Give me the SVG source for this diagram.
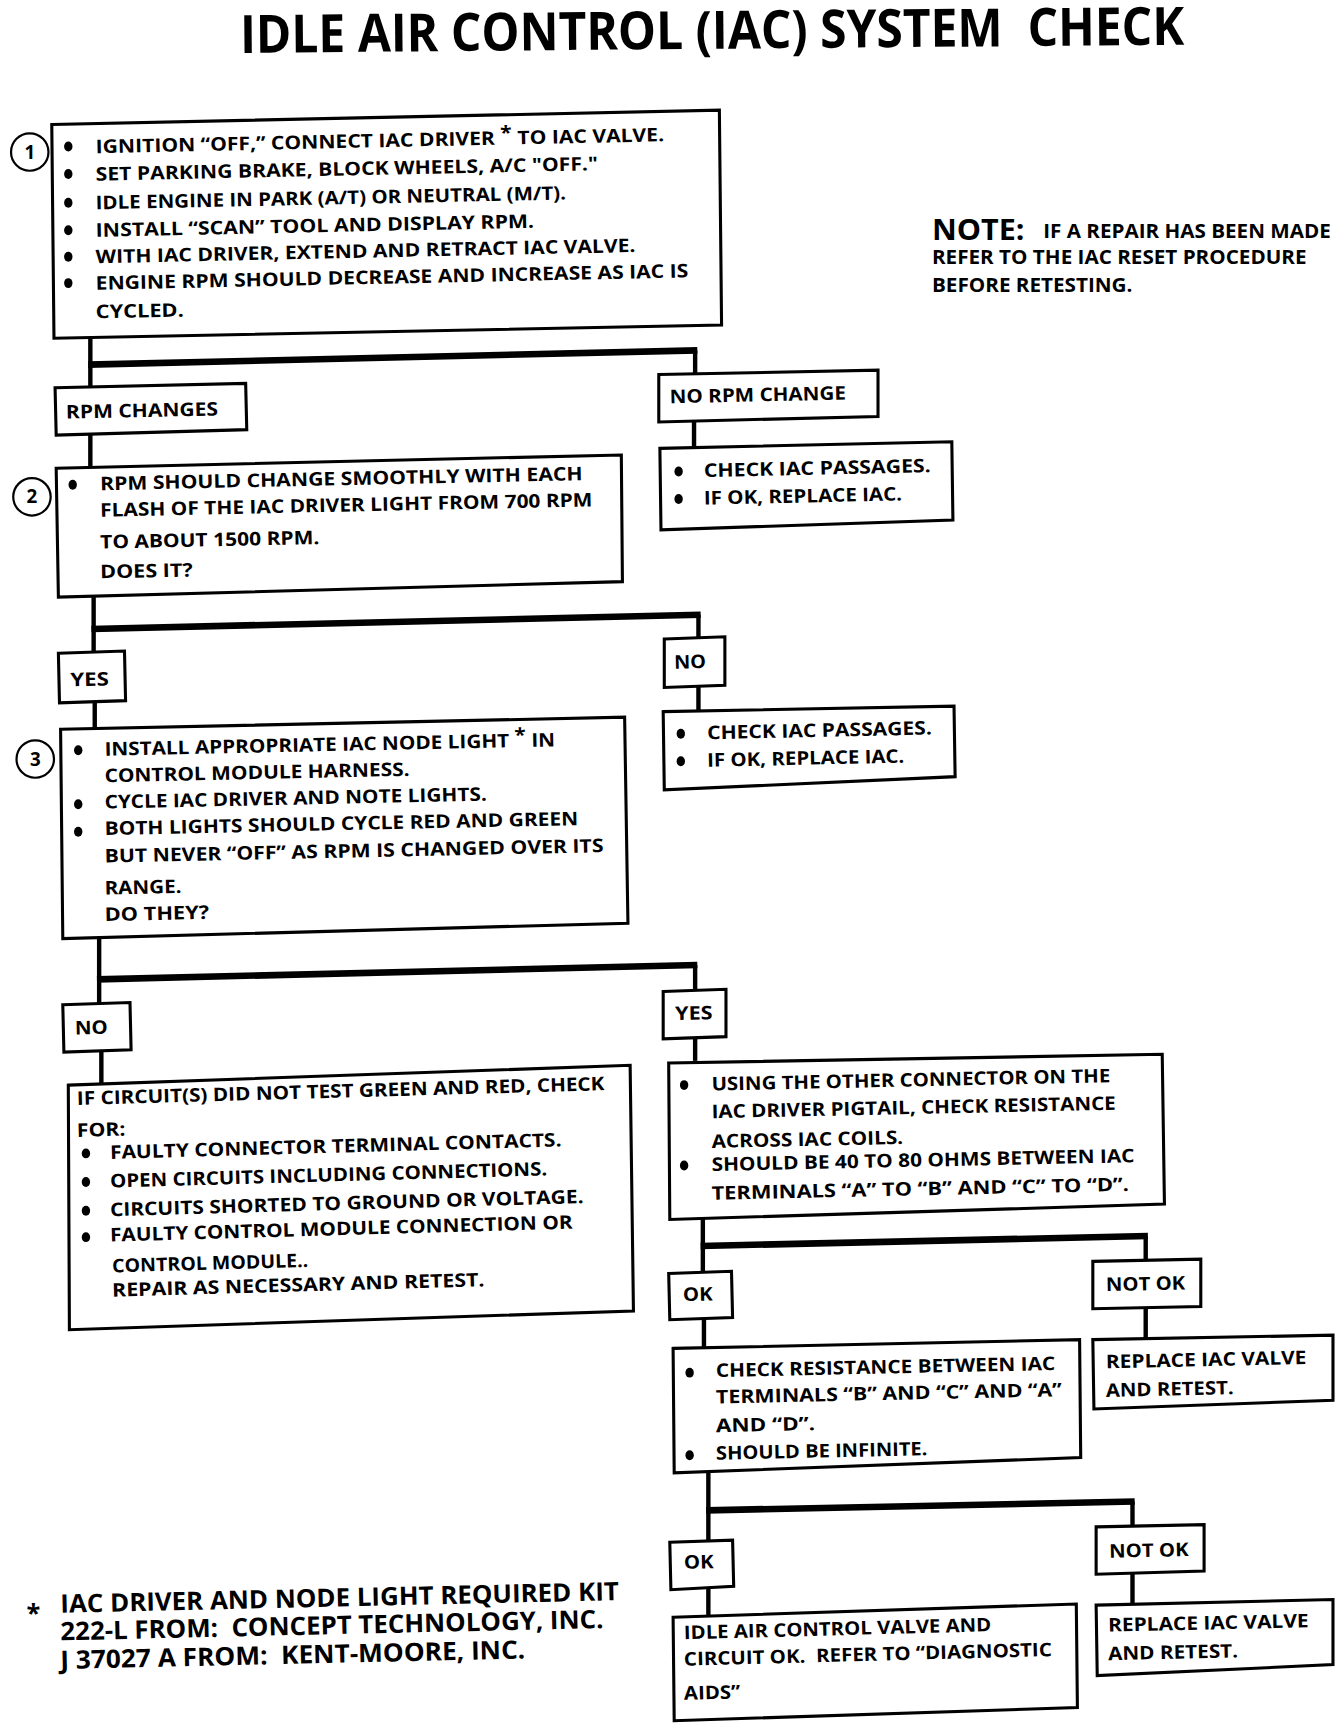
<svg xmlns="http://www.w3.org/2000/svg" width="1344" height="1724" viewBox="0 0 1344 1724">
<style>
.bx{fill:#fff;stroke:#000;stroke-width:2.8;stroke-linejoin:miter}
.t{font-family:"Open Sans","Liberation Sans",sans-serif;font-weight:700;font-size:17px;fill:#000}
.ft{font-family:"Open Sans","Liberation Sans",sans-serif;font-weight:700;font-size:23px;fill:#000}
.ttl{font-family:"Open Sans","Liberation Sans",sans-serif;font-weight:700;font-size:48px;fill:#000}
.num{font-family:"Open Sans","Liberation Sans",sans-serif;font-weight:700;font-size:17px;fill:#000;text-anchor:middle}
.cir{fill:#fff;stroke:#000;stroke-width:2}
.v{stroke:#000;stroke-width:4;fill:none}
.h{stroke:#000;stroke-width:6;fill:none}
.b{fill:#000}
</style>
<rect width="1344" height="1724" fill="#fff"/>
<g transform="scale(1.10164)">
<text id="title" class="ttl" x="218" y="48" textLength="857" lengthAdjust="spacingAndGlyphs" transform="rotate(-0.5 218 48)">IDLE AIR CONTROL (IAC) SYSTEM&#160; CHECK</text>

<g id="connectors">
<line class="v" x1="82" y1="307" x2="82" y2="351"/>
<line class="h" x1="80" y1="331" x2="633" y2="318"/>
<line class="v" x1="631" y1="318" x2="631" y2="339"/>
<line class="v" x1="82" y1="394" x2="82" y2="424"/>
<line class="v" x1="630" y1="381" x2="630" y2="406"/>
<line class="v" x1="85" y1="542" x2="85" y2="593"/>
<line class="h" x1="83" y1="571" x2="636" y2="558"/>
<line class="v" x1="634" y1="558" x2="634" y2="579"/>
<line class="v" x1="86" y1="637" x2="86" y2="661"/>
<line class="v" x1="634" y1="623" x2="634" y2="645"/>
<line class="v" x1="90" y1="852" x2="90" y2="911"/>
<line class="h" x1="88" y1="889" x2="633" y2="876"/>
<line class="v" x1="631" y1="876" x2="631" y2="899"/>
<line class="v" x1="92" y1="954" x2="92" y2="984"/>
<line class="v" x1="631" y1="942" x2="631" y2="963"/>
<line class="v" x1="638" y1="1106" x2="638" y2="1155"/>
<line class="h" x1="636" y1="1131" x2="1042" y2="1122"/>
<line class="v" x1="1040" y1="1122" x2="1040" y2="1144"/>
<line class="v" x1="639" y1="1197" x2="639" y2="1223"/>
<line class="v" x1="1040" y1="1187" x2="1040" y2="1215"/>
<line class="v" x1="643" y1="1336" x2="643" y2="1399"/>
<line class="h" x1="641" y1="1371" x2="1030" y2="1363"/>
<line class="v" x1="1028" y1="1363" x2="1028" y2="1385"/>
<line class="v" x1="643" y1="1442" x2="643" y2="1467"/>
<line class="v" x1="1028" y1="1428" x2="1028" y2="1457"/>
</g>

<g id="step1">
<polygon class="bx" points="47,113 653,100 655,295 49,307"/>
<circle class="cir" cx="27" cy="138" r="17"/>
<text class="num" x="27" y="144">1</text>
<ellipse class="b" cx="62" cy="133" rx="3.8" ry="4.5"/>
<ellipse class="b" cx="62" cy="158" rx="3.8" ry="4.5"/>
<ellipse class="b" cx="62" cy="184" rx="3.8" ry="4.5"/>
<ellipse class="b" cx="62" cy="209" rx="3.8" ry="4.5"/>
<ellipse class="b" cx="62" cy="233" rx="3.8" ry="4.5"/>
<ellipse class="b" cx="62" cy="257" rx="3.8" ry="4.5"/>
<text class="t" x="87" y="139" textLength="516" lengthAdjust="spacingAndGlyphs" transform="rotate(-1.2 87 139)">IGNITION “OFF,” CONNECT IAC DRIVER <tspan dy="-5">*</tspan><tspan dy="5"> TO IAC VALVE.</tspan></text>
<text class="t" x="87" y="164" textLength="456" lengthAdjust="spacingAndGlyphs" transform="rotate(-1.2 87 164)">SET PARKING BRAKE, BLOCK WHEELS, A/C "OFF."</text>
<text class="t" x="87" y="190" textLength="427" lengthAdjust="spacingAndGlyphs" transform="rotate(-1.2 87 190)">IDLE ENGINE IN PARK (A/T) OR NEUTRAL (M/T).</text>
<text class="t" x="87" y="215" textLength="398" lengthAdjust="spacingAndGlyphs" transform="rotate(-1.2 87 215)">INSTALL “SCAN” TOOL AND DISPLAY RPM.</text>
<text class="t" x="87" y="239" textLength="490" lengthAdjust="spacingAndGlyphs" transform="rotate(-1.2 87 239)">WITH IAC DRIVER, EXTEND AND RETRACT IAC VALVE.</text>
<text class="t" x="87" y="263" textLength="538" lengthAdjust="spacingAndGlyphs" transform="rotate(-1.2 87 263)">ENGINE RPM SHOULD DECREASE AND INCREASE AS IAC IS</text>
<text class="t" x="87" y="289" textLength="80" lengthAdjust="spacingAndGlyphs" transform="rotate(-1.2 87 289)">CYCLED.</text>
</g>

<g id="note">
<text class="t" x="846" y="218" style="font-size:26px" textLength="84" lengthAdjust="spacingAndGlyphs">NOTE:</text>
<text class="t" x="947" y="216" textLength="261" lengthAdjust="spacingAndGlyphs">IF A REPAIR HAS BEEN MADE</text>
<text class="t" x="846" y="240" textLength="340" lengthAdjust="spacingAndGlyphs">REFER TO THE IAC RESET PROCEDURE</text>
<text class="t" x="846" y="265" textLength="182" lengthAdjust="spacingAndGlyphs">BEFORE RETESTING.</text>
</g>

<g id="rpm-changes">
<polygon class="bx" points="50,352 223,348 224,390 51,395"/>
<text class="t" x="60" y="380" textLength="138" lengthAdjust="spacingAndGlyphs" transform="rotate(-1.2 60 380)">RPM CHANGES</text>
</g>
<g id="no-rpm-change">
<polygon class="bx" points="598,340 797,336 797,378 598,383"/>
<text class="t" x="608" y="366" textLength="160" lengthAdjust="spacingAndGlyphs" transform="rotate(-1.2 608 366)">NO RPM CHANGE</text>
</g>
<g id="check-passages-1">
<polygon class="bx" points="599,407 864,401 865,472 600,481"/>
<ellipse class="b" cx="616" cy="428" rx="3.8" ry="4.5"/>
<ellipse class="b" cx="616" cy="453" rx="3.8" ry="4.5"/>
<text class="t" x="639" y="433" textLength="206" lengthAdjust="spacingAndGlyphs" transform="rotate(-1.2 639 433)">CHECK IAC PASSAGES.</text>
<text class="t" x="639" y="458" textLength="180" lengthAdjust="spacingAndGlyphs" transform="rotate(-1.2 639 458)">IF OK, REPLACE IAC.</text>
</g>

<g id="step2">
<polygon class="bx" points="51,425 564,413 565,528 53,542"/>
<circle class="cir" cx="29" cy="451" r="17"/>
<text class="num" x="29" y="457">2</text>
<ellipse class="b" cx="66" cy="440" rx="3.8" ry="4.5"/>
<text class="t" x="91" y="445" textLength="438" lengthAdjust="spacingAndGlyphs" transform="rotate(-1.2 91 445)">RPM SHOULD CHANGE SMOOTHLY WITH EACH</text>
<text class="t" x="91" y="469" textLength="447" lengthAdjust="spacingAndGlyphs" transform="rotate(-1.2 91 469)">FLASH OF THE IAC DRIVER LIGHT FROM 700 RPM</text>
<text class="t" x="91" y="498" textLength="199" lengthAdjust="spacingAndGlyphs" transform="rotate(-1.2 91 498)">TO ABOUT 1500 RPM.</text>
<text class="t" x="91" y="525" textLength="84" lengthAdjust="spacingAndGlyphs" transform="rotate(-1.2 91 525)">DOES IT?</text>
</g>

<g id="yes-1">
<polygon class="bx" points="53,593 113,591 114,636 54,638"/>
<text class="t" x="64" y="623" textLength="35" lengthAdjust="spacingAndGlyphs" transform="rotate(-1.2 64 623)">YES</text>
</g>
<g id="no-1">
<polygon class="bx" points="603,580 658,578 658,622 603,624"/>
<text class="t" x="612" y="607" textLength="29" lengthAdjust="spacingAndGlyphs" transform="rotate(-1.2 612 607)">NO</text>
</g>
<g id="check-passages-2">
<polygon class="bx" points="602,646 866,641 867,705 603,717"/>
<ellipse class="b" cx="618" cy="666" rx="3.8" ry="4.5"/>
<ellipse class="b" cx="618" cy="691" rx="3.8" ry="4.5"/>
<text class="t" x="642" y="671" textLength="204" lengthAdjust="spacingAndGlyphs" transform="rotate(-1.2 642 671)">CHECK IAC PASSAGES.</text>
<text class="t" x="642" y="696" textLength="179" lengthAdjust="spacingAndGlyphs" transform="rotate(-1.2 642 696)">IF OK, REPLACE IAC.</text>
</g>

<g id="step3">
<polygon class="bx" points="55,662 567,651 570,838 57,852"/>
<circle class="cir" cx="32" cy="689" r="17"/>
<text class="num" x="32" y="695">3</text>
<ellipse class="b" cx="71" cy="681" rx="3.8" ry="4.5"/>
<ellipse class="b" cx="71" cy="730" rx="3.8" ry="4.5"/>
<ellipse class="b" cx="71" cy="755" rx="3.8" ry="4.5"/>
<text class="t" x="95" y="686" textLength="409" lengthAdjust="spacingAndGlyphs" transform="rotate(-1.2 95 686)">INSTALL APPROPRIATE IAC NODE LIGHT <tspan dy="-5">*</tspan><tspan dy="5"> IN</tspan></text>
<text class="t" x="95" y="710" textLength="277" lengthAdjust="spacingAndGlyphs" transform="rotate(-1.2 95 710)">CONTROL MODULE HARNESS.</text>
<text class="t" x="95" y="734" textLength="347" lengthAdjust="spacingAndGlyphs" transform="rotate(-1.2 95 734)">CYCLE IAC DRIVER AND NOTE LIGHTS.</text>
<text class="t" x="95" y="758" textLength="430" lengthAdjust="spacingAndGlyphs" transform="rotate(-1.2 95 758)">BOTH LIGHTS SHOULD CYCLE RED AND GREEN</text>
<text class="t" x="95" y="783" textLength="453" lengthAdjust="spacingAndGlyphs" transform="rotate(-1.2 95 783)">BUT NEVER “OFF” AS RPM IS CHANGED OVER ITS</text>
<text class="t" x="95" y="812" textLength="70" lengthAdjust="spacingAndGlyphs" transform="rotate(-1.2 95 812)">RANGE.</text>
<text class="t" x="95" y="836" textLength="95" lengthAdjust="spacingAndGlyphs" transform="rotate(-1.2 95 836)">DO THEY?</text>
</g>

<g id="no-2">
<polygon class="bx" points="57,912 118,910 119,953 58,955"/>
<text class="t" x="68" y="939" textLength="30" lengthAdjust="spacingAndGlyphs" transform="rotate(-1.2 68 939)">NO</text>
</g>
<g id="yes-2">
<polygon class="bx" points="602,900 659,898 659,941 602,943"/>
<text class="t" x="613" y="926" textLength="34" lengthAdjust="spacingAndGlyphs" transform="rotate(-1.2 613 926)">YES</text>
</g>

<g id="repair-circuits">
<polygon class="bx" points="62,985 572,967 575,1190 63,1207"/>
<text class="t" x="70" y="1003" textLength="479" lengthAdjust="spacingAndGlyphs" transform="rotate(-1.6 70 1003)">IF CIRCUIT(S) DID NOT TEST GREEN AND RED, CHECK</text>
<text class="t" x="70" y="1032" textLength="44" lengthAdjust="spacingAndGlyphs" transform="rotate(-1.6 70 1032)">FOR:</text>
<ellipse class="b" cx="78" cy="1047" rx="3.8" ry="4.5"/>
<ellipse class="b" cx="78" cy="1073" rx="3.8" ry="4.5"/>
<ellipse class="b" cx="78" cy="1099" rx="3.8" ry="4.5"/>
<ellipse class="b" cx="78" cy="1123" rx="3.8" ry="4.5"/>
<text class="t" x="100" y="1052" textLength="410" lengthAdjust="spacingAndGlyphs" transform="rotate(-1.6 100 1052)">FAULTY CONNECTOR TERMINAL CONTACTS.</text>
<text class="t" x="100" y="1078" textLength="397" lengthAdjust="spacingAndGlyphs" transform="rotate(-1.6 100 1078)">OPEN CIRCUITS INCLUDING CONNECTIONS.</text>
<text class="t" x="100" y="1104" textLength="430" lengthAdjust="spacingAndGlyphs" transform="rotate(-1.6 100 1104)">CIRCUITS SHORTED TO GROUND OR VOLTAGE.</text>
<text class="t" x="100" y="1127" textLength="420" lengthAdjust="spacingAndGlyphs" transform="rotate(-1.6 100 1127)">FAULTY CONTROL MODULE CONNECTION OR</text>
<text class="t" x="102" y="1155" textLength="178" lengthAdjust="spacingAndGlyphs" transform="rotate(-1.6 102 1155)">CONTROL MODULE..</text>
<text class="t" x="102" y="1177" textLength="338" lengthAdjust="spacingAndGlyphs" transform="rotate(-1.6 102 1177)">REPAIR AS NECESSARY AND RETEST.</text>
</g>

<g id="step4">
<polygon class="bx" points="607,965 1055,957 1057,1093 608,1107"/>
<ellipse class="b" cx="621" cy="985" rx="3.8" ry="4.5"/>
<ellipse class="b" cx="621" cy="1058" rx="3.8" ry="4.5"/>
<text class="t" x="646" y="990" textLength="362" lengthAdjust="spacingAndGlyphs" transform="rotate(-1.2 646 990)">USING THE OTHER CONNECTOR ON THE</text>
<text class="t" x="646" y="1015" textLength="367" lengthAdjust="spacingAndGlyphs" transform="rotate(-1.2 646 1015)">IAC DRIVER PIGTAIL, CHECK RESISTANCE</text>
<text class="t" x="646" y="1042" textLength="174" lengthAdjust="spacingAndGlyphs" transform="rotate(-1.2 646 1042)">ACROSS IAC COILS.</text>
<text class="t" x="646" y="1063" textLength="384" lengthAdjust="spacingAndGlyphs" transform="rotate(-1.2 646 1063)">SHOULD BE 40 TO 80 OHMS BETWEEN IAC</text>
<text class="t" x="646" y="1089" textLength="379" lengthAdjust="spacingAndGlyphs" transform="rotate(-1.2 646 1089)">TERMINALS “A” TO “B” AND “C” TO “D”.</text>
</g>

<g id="ok-1">
<polygon class="bx" points="607,1156 664,1154 665,1196 608,1198"/>
<text class="t" x="620" y="1181" textLength="27" lengthAdjust="spacingAndGlyphs" transform="rotate(-1.2 620 1181)">OK</text>
</g>
<g id="not-ok-1">
<polygon class="bx" points="992,1145 1090,1143 1090,1186 992,1188"/>
<text class="t" x="1004" y="1172" textLength="72" lengthAdjust="spacingAndGlyphs" transform="rotate(-1.2 1004 1172)">NOT OK</text>
</g>

<g id="step5">
<polygon class="bx" points="611,1224 980,1216 981,1323 612,1337"/>
<ellipse class="b" cx="626" cy="1246" rx="3.8" ry="4.5"/>
<ellipse class="b" cx="626" cy="1321" rx="3.8" ry="4.5"/>
<text class="t" x="650" y="1250" textLength="308" lengthAdjust="spacingAndGlyphs" transform="rotate(-1.2 650 1250)">CHECK RESISTANCE BETWEEN IAC</text>
<text class="t" x="650" y="1274" textLength="314" lengthAdjust="spacingAndGlyphs" transform="rotate(-1.2 650 1274)">TERMINALS “B” AND “C” AND “A”</text>
<text class="t" x="650" y="1300" textLength="90" lengthAdjust="spacingAndGlyphs" transform="rotate(-1.2 650 1300)">AND “D”.</text>
<text class="t" x="650" y="1325" textLength="192" lengthAdjust="spacingAndGlyphs" transform="rotate(-1.2 650 1325)">SHOULD BE INFINITE.</text>
</g>

<g id="replace-1">
<polygon class="bx" points="992,1216 1210,1212 1210,1271 993,1279"/>
<text class="t" x="1004" y="1242" textLength="182" lengthAdjust="spacingAndGlyphs" transform="rotate(-1.2 1004 1242)">REPLACE IAC VALVE</text>
<text class="t" x="1004" y="1268" textLength="116" lengthAdjust="spacingAndGlyphs" transform="rotate(-1.2 1004 1268)">AND RETEST.</text>
</g>

<g id="ok-2">
<polygon class="bx" points="608,1400 665,1398 666,1440 609,1443"/>
<text class="t" x="621" y="1424" textLength="27" lengthAdjust="spacingAndGlyphs" transform="rotate(-1.2 621 1424)">OK</text>
</g>
<g id="not-ok-2">
<polygon class="bx" points="995,1386 1093,1384 1093,1426 995,1429"/>
<text class="t" x="1007" y="1414" textLength="72" lengthAdjust="spacingAndGlyphs" transform="rotate(-1.2 1007 1414)">NOT OK</text>
</g>

<g id="system-ok">
<polygon class="bx" points="611,1468 977,1456 978,1550 612,1562"/>
<text class="t" x="621" y="1488" textLength="279" lengthAdjust="spacingAndGlyphs" transform="rotate(-1.5 621 1488)">IDLE AIR CONTROL VALVE AND</text>
<text class="t" x="621" y="1512" textLength="334" lengthAdjust="spacingAndGlyphs" transform="rotate(-1.5 621 1512)">CIRCUIT OK.&#160; REFER TO “DIAGNOSTIC</text>
<text class="t" x="621" y="1543" textLength="51" lengthAdjust="spacingAndGlyphs" transform="rotate(-1.5 621 1543)">AIDS”</text>
</g>

<g id="replace-2">
<polygon class="bx" points="995,1457 1210,1452 1210,1511 996,1521"/>
<text class="t" x="1006" y="1481" textLength="182" lengthAdjust="spacingAndGlyphs" transform="rotate(-1.2 1006 1481)">REPLACE IAC VALVE</text>
<text class="t" x="1006" y="1507" textLength="118" lengthAdjust="spacingAndGlyphs" transform="rotate(-1.2 1006 1507)">AND RETEST.</text>
</g>

<g id="footnote">
<text class="ft" x="24" y="1472">*</text>
<text class="ft" x="55" y="1464" textLength="507" lengthAdjust="spacingAndGlyphs" transform="rotate(-1.3 55 1464)">IAC DRIVER AND NODE LIGHT REQUIRED KIT</text>
<text class="ft" x="55" y="1489" textLength="493" lengthAdjust="spacingAndGlyphs" transform="rotate(-1.3 55 1489)">222-L FROM:&#160; CONCEPT TECHNOLOGY, INC.</text>
<text class="ft" x="55" y="1515" textLength="422" lengthAdjust="spacingAndGlyphs" transform="rotate(-1.3 55 1515)">J 37027 A FROM:&#160; KENT-MOORE, INC.</text>
</g>
</g>
</svg>
